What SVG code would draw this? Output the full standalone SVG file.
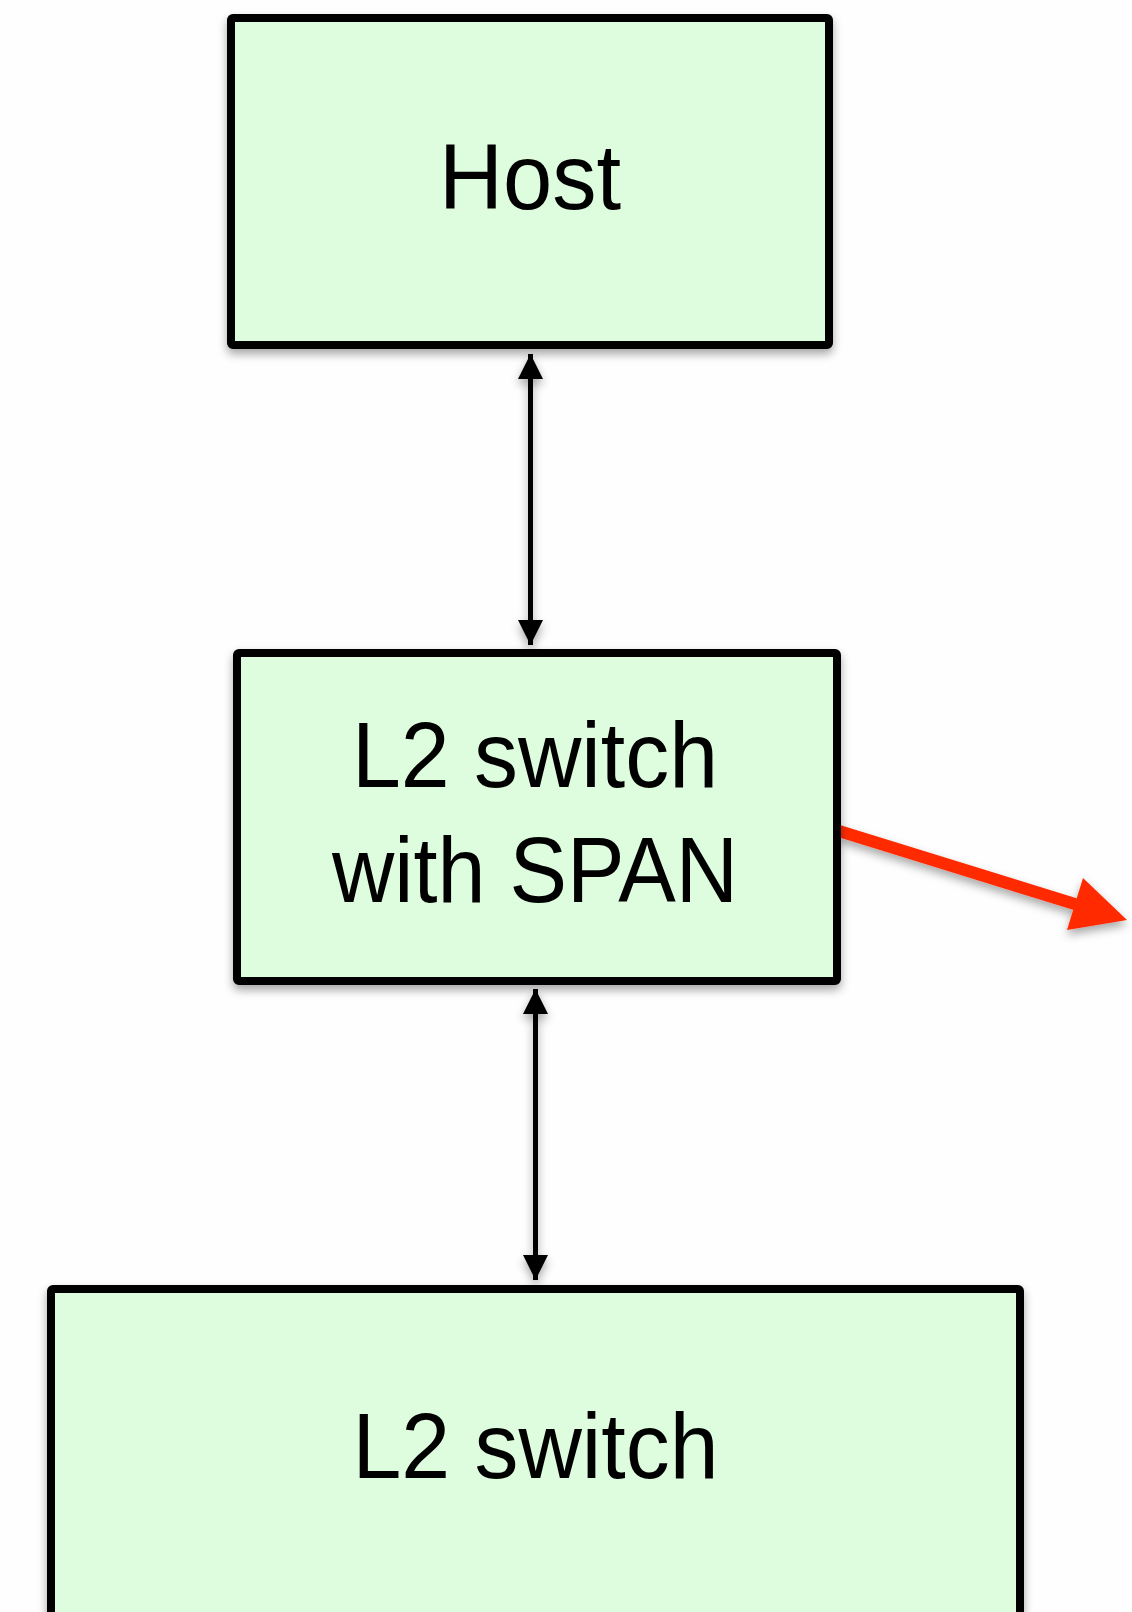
<svg xmlns="http://www.w3.org/2000/svg" width="1132" height="1612" viewBox="0 0 1132 1612">
<defs>
<filter id="sh" x="-20%" y="-20%" width="140%" height="140%">
<feDropShadow dx="0" dy="5" stdDeviation="5" flood-color="#000" flood-opacity="0.35"/>
</filter>
<marker id="bh" viewBox="0 0 10 10" refX="10" refY="5" markerWidth="5" markerHeight="5" orient="auto-start-reverse" markerUnits="strokeWidth">
<path d="M0,0 L10,5 L0,10 Z" fill="#000"/>
</marker>
</defs>
<style>
.box{fill:#DEFCDE;stroke:#000;stroke-width:8;}
.lbl{font-family:"Liberation Sans",Arial,sans-serif;font-size:93px;fill:#000;text-anchor:middle;}
.bk{stroke:#000;stroke-width:5;fill:none;}
.rd{stroke:#FF2A00;stroke-width:12;fill:none;}
</style>
<rect width="1132" height="1612" fill="#FEFEFE"/>
<g id="connectors" filter="url(#sh)">
<line class="bk" x1="530.5" y1="354" x2="530.5" y2="645" marker-start="url(#bh)" marker-end="url(#bh)"/>
<line class="bk" x1="535.5" y1="989" x2="535.5" y2="1280" marker-start="url(#bh)" marker-end="url(#bh)"/>
<line class="rd" x1="839" y1="831" x2="1078" y2="905"/>
<polygon points="1083,878 1127,920 1067,930" fill="#FF2A00"/>
</g>
<g id="host" filter="url(#sh)">
<rect class="box" x="231" y="18" width="598" height="327" rx="2"/>
<text class="lbl" x="530" y="209" textLength="182" lengthAdjust="spacingAndGlyphs">Host</text>
</g>
<g id="span-switch" filter="url(#sh)">
<rect class="box" x="237" y="653" width="600" height="328" rx="2"/>
<text class="lbl" x="535" y="787" textLength="366" lengthAdjust="spacingAndGlyphs">L2 switch</text>
<text class="lbl" x="535" y="902" textLength="406" lengthAdjust="spacingAndGlyphs">with SPAN</text>
</g>
<g id="l2-switch" filter="url(#sh)">
<rect class="box" x="51" y="1289" width="969" height="400" rx="2"/>
<text class="lbl" x="535.5" y="1478" textLength="366" lengthAdjust="spacingAndGlyphs">L2 switch</text>
</g>
</svg>
